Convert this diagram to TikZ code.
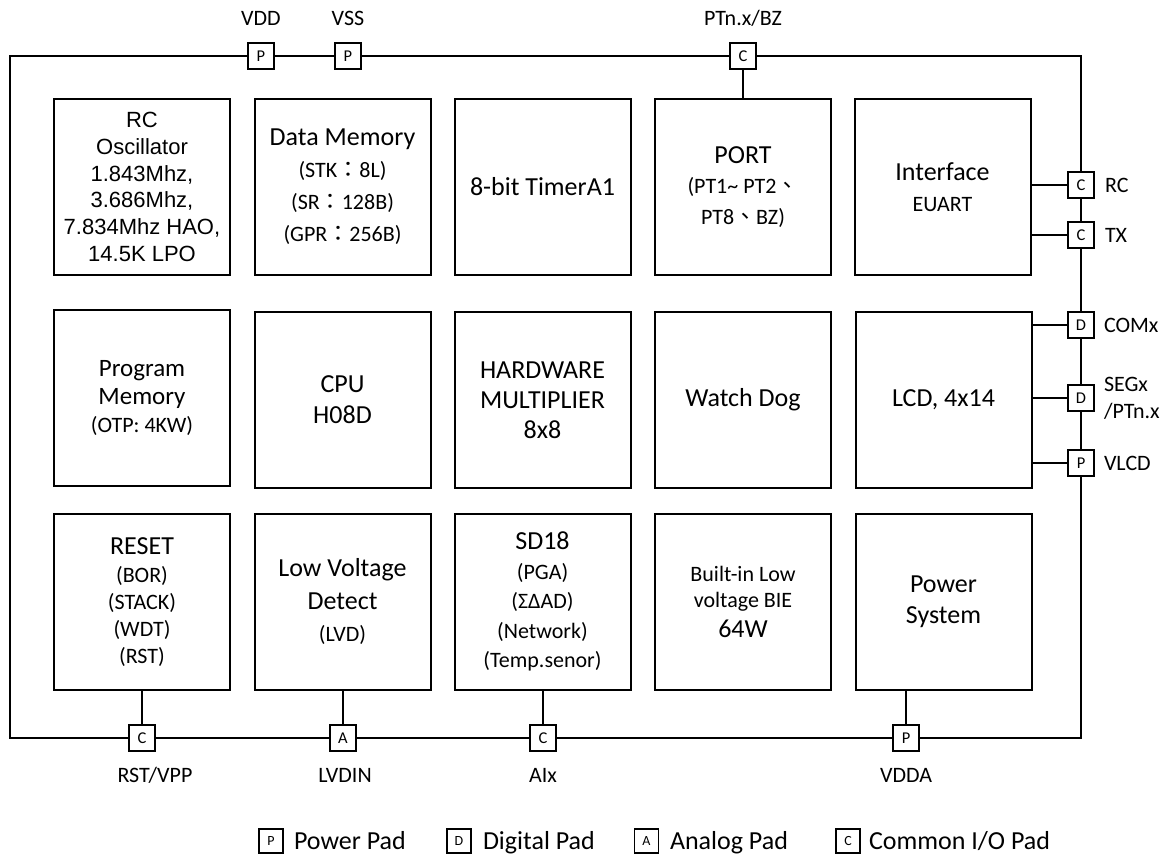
\documentclass[tikz,border=0pt]{standalone}
\usepackage{fontspec}
\setmainfont{Carlito}
\newfontfamily\arialf{Liberation Sans}
\newfontfamily\cjkf{Noto Sans CJK TC}
\newcommand{\fs}[2]{\fontsize{#1}{#2}\selectfont}
\newcommand{\ma}{\fontsize{26}{31}\selectfont}
\newcommand{\mb}{\fontsize{22}{27}\selectfont}
\begin{document}
\begin{tikzpicture}[x=1pt,y=-1pt,line width=2pt,
  blk/.style={draw, minimum width=176pt, minimum height=176pt, inner sep=0pt, align=center, font=\fs{26}{31}},
  pad/.style={draw, fill=white, minimum size=26pt, inner sep=0pt, font=\fs{16.5}{16.5}},
  lbl/.style={font=\fs{22}{27}, inner sep=0pt},
  lgbox/.style={draw, line width=1.3pt, minimum size=24pt, inner sep=0pt, font=\fs{14}{14}},
  lgtxt/.style={font=\fs{26}{30}, inner sep=0pt, anchor=base west},
  wire/.style={line width=2pt}]
\useasboundingbox (0,0) rectangle (1167,856);

% outer frame
\draw[wire] (10,56) rectangle (1081,738);

% row 1
\node[blk, font=\arialf\fs{22}{26.8}] (rc) at (142,187) {RC\\Oscillator\\1.843Mhz,\\3.686Mhz,\\7.834Mhz HAO,\\14.5K LPO};
\node[blk, font=\fs{22}{32}] (dm) at (342.5,187) {\ma Data Memory\\(STK{\cjkf ：}8L)\\(SR{\cjkf ：}128B)\\(GPR{\cjkf ：}256B)};
\node[blk] (tmr) at (542.5,187) {8-bit TimerA1};
\node[blk, font=\fs{22}{30.5}] (port) at (743,187) {\ma PORT\\(PT1\textasciitilde{} PT2{\cjkf 、}\\PT8{\cjkf 、}BZ)};
\node[blk, font=\fs{22}{31}] (intf) at (942.5,187) {\ma Interface\\EUART};

% row 2
\node[blk, font=\fs{22}{28}] (pm) at (142,398) {\fs{25}{28}Program\\\fs{25}{28}Memory\\(OTP: 4KW)};
\node[blk] (cpu) at (342.5,400) {CPU\\H08D};
\node[blk, font=\fs{26}{30}] (hw) at (542.5,400) {HARDWARE\\MULTIPLIER\\8x8};
\node[blk] (wd) at (743,400) {Watch Dog};
\node[blk] (lcd) at (943.5,400) {LCD, 4x14};

% row 3
\node[blk, font=\fs{22}{26.7}] (reset) at (142,602) {\ma RESET\\[1.5pt](BOR)\\(STACK)\\(WDT)\\(RST)};
\node[blk, font=\fs{26}{32.5}] (lvd) at (342.5,601.5) {Low Voltage\\Detect\\\mb (LVD)};
\node[blk, font=\fs{22}{29.5}] (sd) at (542.5,601.5) {\ma SD18\\(PGA)\\(ΣΔAD)\\(Network)\\(Temp.senor)};
\node[blk, font=\fs{22}{26}] (bie) at (743,601.5) {Built-in Low\\voltage BIE\\[4pt]\ma 64W};
\node[blk] (psys) at (943.5,601.5) {Power\\System};

% pads
\node[pad] (pvdd) at (261,56) {P};
\node[pad] (pvss) at (348,56) {P};
\node[pad] (pbz) at (743,56) {C};
\node[pad] (prc) at (1081,185) {C};
\node[pad] (ptx) at (1081,235) {C};
\node[pad] (pcom) at (1081,325) {D};
\node[pad] (pseg) at (1081,398) {D};
\node[pad] (pvlcd) at (1081,463) {P};
\node[pad] (prst) at (142,738) {C};
\node[pad] (plvd) at (343,738) {A};
\node[pad] (pai) at (543,738) {C};
\node[pad] (pvdda) at (906,738) {P};

% connectors
\draw[wire] (pbz) -- (port);
\draw[wire] (intf.east |- prc) -- (prc);
\draw[wire] (intf.east |- ptx) -- (ptx);
\draw[wire] (lcd.east |- pcom) -- (pcom);
\draw[wire] (lcd.east |- pseg) -- (pseg);
\draw[wire] (lcd.east |- pvlcd) -- (pvlcd);
\draw[wire] (reset) -- (prst);
\draw[wire] (lvd.south -| plvd) -- (plvd);
\draw[wire] (sd.south -| pai) -- (pai);
\draw[wire] (psys.south -| pvdda) -- (pvdda);

% pad labels
\node[lbl] (lvdd) at (261,18) {VDD};
\node[lbl] (lvss) at (348,18) {VSS};
\node[lbl] (lbz) at (743,18) {PTn.x/BZ};
\node[lbl, anchor=west] (lrc) at (1104,185) {RC};
\node[lbl, anchor=west] (ltx) at (1104,235) {TX};
\node[lbl, anchor=west] (lcom) at (1103,325) {COMx};
\node[lbl, anchor=west, align=left] (lseg) at (1103,398) {SEGx\\/PTn.x};
\node[lbl, anchor=west] (lvlcd) at (1103,463) {VLCD};
\node[lbl] (lrst) at (155,775) {RST/VPP};
\node[lbl] (llvd) at (345,775) {LVDIN};
\node[lbl] (lai) at (543,775) {AIx};
\node[lbl] (lvdda) at (906,775) {VDDA};

% legend
\node[lgbox] (lgp) at (271,841) {P};
\node[lgtxt] (lgpt) at (293,849) {Power Pad};
\node[lgbox] (lgd) at (459,841) {D};
\node[lgtxt] (lgdt) at (482,849) {Digital Pad};
\node[lgbox] (lga) at (646.5,841) {A};
\node[lgtxt] (lgat) at (669,849) {Analog Pad};
\node[lgbox] (lgc) at (848,841) {C};
\node[lgtxt] (lgct) at (868,849) {Common I/O Pad};
\end{tikzpicture}
\end{document}
